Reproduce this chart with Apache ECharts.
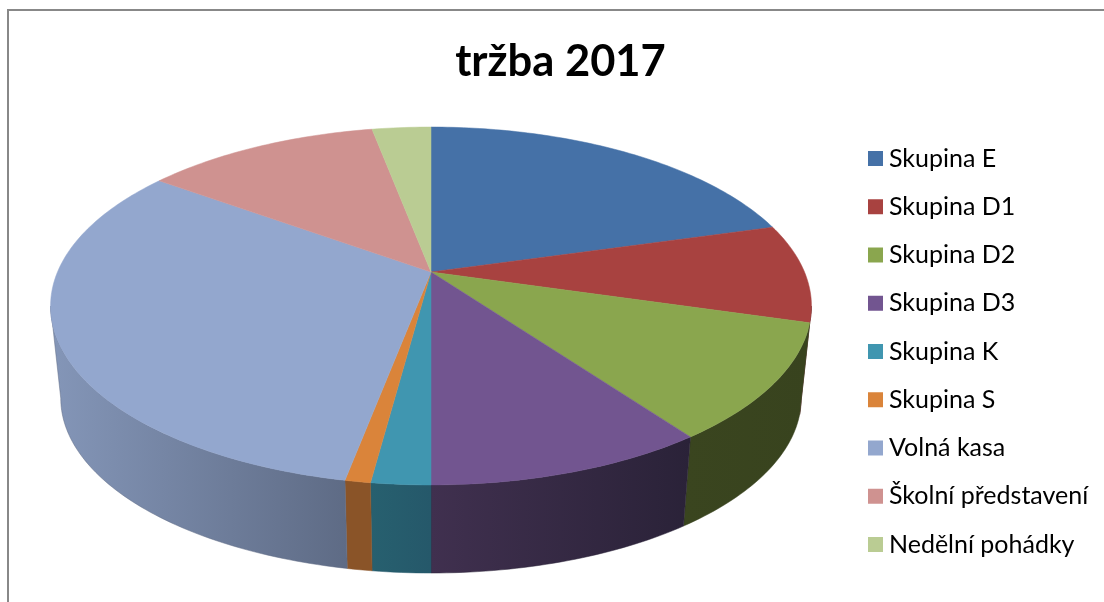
<!DOCTYPE html>
<html>
<head>
<meta charset="utf-8">
<style>
  html, body { margin: 0; padding: 0; background: #fff; }
  #chart { width: 1104px; height: 602px; }
</style>
<script src="https://cdn.jsdelivr.net/npm/echarts@6/dist/echarts.min.js"></script>
</head>
<body>
<div id="chart"></div>
<script>
// hodnoty (podíl v %)
var categories = ['Skupina E', 'Skupina D1', 'Skupina D2', 'Skupina D3', 'Skupina K', 'Skupina S', 'Volná kasa', 'Školní představení', 'Nedělní pohádky']
var values = [20.6, 8.9, 10.5, 10.0, 2.1, 0.9, 32.0, 12.0, 3.0]
var topColors = ['#4571a7', '#a84240', '#8aa64e', '#725590', '#4096b0', '#da843a', '#93a7ce', '#cf9290', '#bacc93']
var wallLeftColors = ['#2b4468', '#6b2928', '#3a451f', '#40304f', '#27606f', '#8a5428', '#8496b8', '#7f5a59', '#737f5b']
var wallRightColors = ['#2b4468', '#4d1d1d', '#38431e', '#2a2238', '#25586a', '#8a5428', '#5e6b85', '#7f5a59', '#737f5b']

// perspektiva: horní a dolní kružnice koláče
var topRing = { cx: 431, cy: 272, rx: 373.5, ry: 172.5 }
var bottomRing = { cx: 431, cy: 365, rx: 363.5, ry: 168.5 }
var persp = 0.19
// úhel, kde okraj přechází z přední strany na zadní
var visibleFrom = Math.acos(-persp) * 180 / Math.PI
var visibleTo = 360 - visibleFrom

var total = values.reduce(function(a, b) { return a + b }, 0)

function rimPoint(ring, deg) {
  var t = deg * Math.PI / 180
  var w = 1 + persp * Math.cos(t)
  return [ring.cx + ring.rx * Math.sin(t) / w, ring.cy - ring.ry * Math.cos(t) / w]
}

function arcPoints(ring, from, to) {
  var pts = []
  var n = Math.max(2, Math.ceil(Math.abs(to - from)))
  for (var i = 0; i <= n; i++) {
    pts.push(rimPoint(ring, from + (to - from) * i / n))
  }
  return pts
}

function sliceAngles(index) {
  var before = 0
  for (var i = 0; i < index; i++) before += values[i]
  return [before / total * 360, (before + values[index]) / total * 360]
}

function renderWall(params, api) {
  var a = sliceAngles(params.dataIndex)
  var from = Math.max(a[0], visibleFrom)
  var to = Math.min(a[1], visibleTo)
  if (to <= from) return null // zadní strana není vidět
  var pts = arcPoints(topRing, from, to).concat(arcPoints(bottomRing, to, from))
  var fill = new echarts.graphic.LinearGradient(0, 0, 1, 0, [
    { offset: 0, color: wallLeftColors[params.dataIndex] },
    { offset: 1, color: wallRightColors[params.dataIndex] }
  ])
  return {
    type: 'polygon',
    shape: { points: pts },
    style: { fill: fill, stroke: wallRightColors[params.dataIndex], lineWidth: 0.5 }
  }
}

function renderFace(index) {
  return function() {
    var a = sliceAngles(index)
    var pts = [[topRing.cx, topRing.cy]].concat(arcPoints(topRing, a[0], a[1]))
    return {
      type: 'polygon',
      shape: { points: pts },
      style: { fill: topColors[index], stroke: topColors[index], lineWidth: 0.5 }
    }
  }
}

var series = [{
  type: 'custom',
  name: 'stěna',
  coordinateSystem: 'none',
  z: 1,
  silent: true,
  renderItem: renderWall,
  data: values
}]
categories.forEach(function(name, i) {
  series.push({
    type: 'custom',
    name: name,
    coordinateSystem: 'none',
    z: 2,
    itemStyle: { color: topColors[i] },
    renderItem: renderFace(i),
    data: [values[i]]
  })
})

var chart = echarts.init(document.getElementById('chart'))
chart.setOption({
  animation: false,
  backgroundColor: '#fff',
  title: {
    text: 'tržba 2017',
    left: 555.5,
    top: 35,
    textAlign: 'center',
    textStyle: { fontFamily: 'Lato', fontSize: 43.5, fontWeight: 'bold', color: '#000' }
  },
  legend: {
    orient: 'vertical',
    left: 863,
    top: 141,
    icon: 'rect',
    itemWidth: 15,
    itemHeight: 15,
    itemGap: 23.25,
    selectedMode: false,
    data: categories,
    textStyle: { fontFamily: 'Lato', fontSize: 25, color: '#000', padding: [0, 0, 0, 1] }
  },
  graphic: [{
    type: 'polyline',
    silent: true,
    shape: { points: [[8, 602], [8, 10], [1104, 10]] },
    style: { stroke: '#888', lineWidth: 2, fill: null }
  }],
  series: series
})
</script>
</body>
</html>
